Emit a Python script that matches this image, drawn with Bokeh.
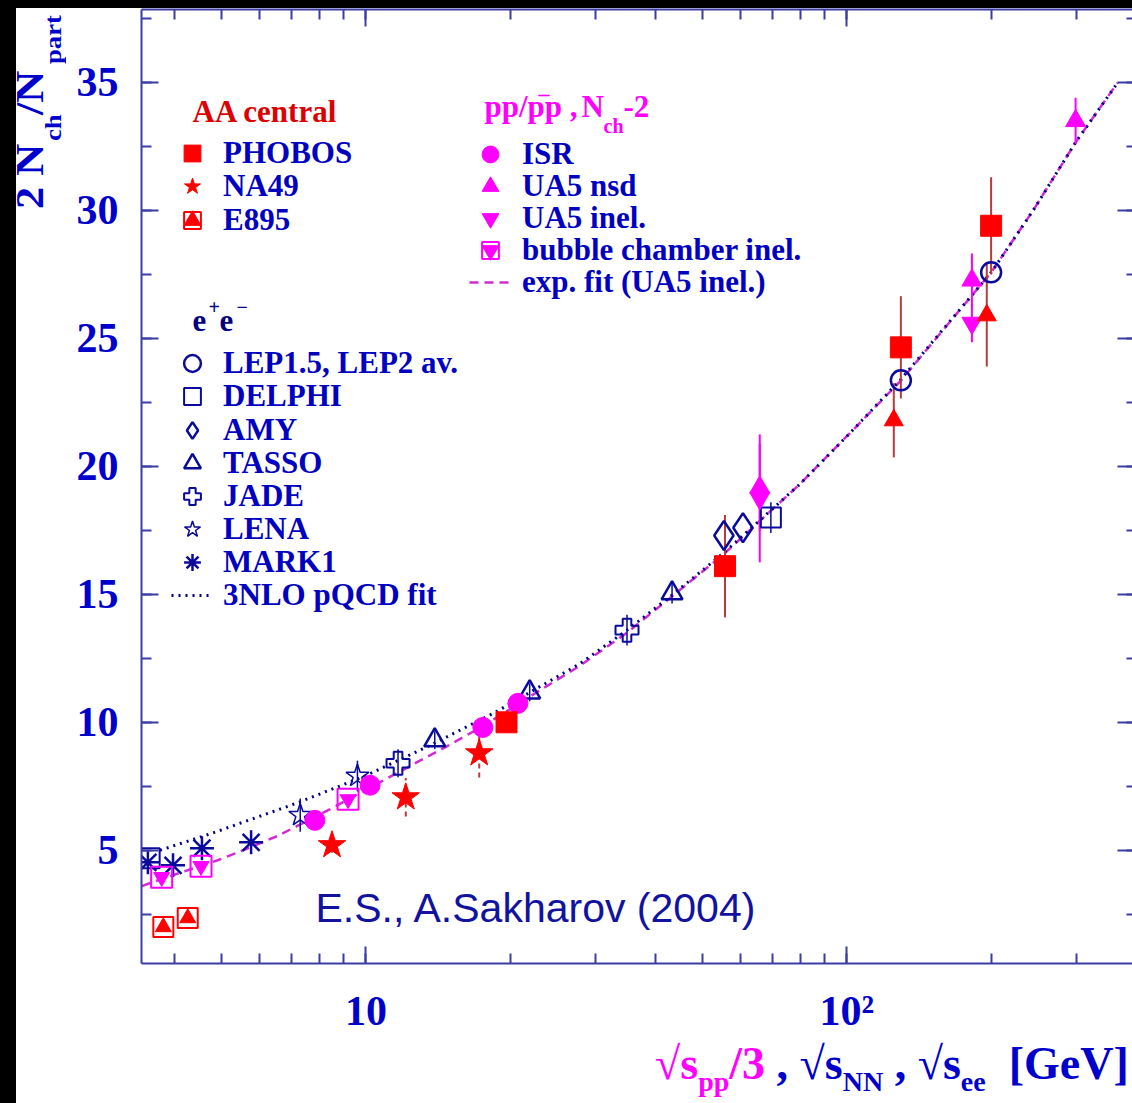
import math

from bokeh.plotting import figure
from bokeh.models import (Range1d, LogAxis, LinearAxis, SingleIntervalTicker, LogTicker,
                          Legend, LegendItem, Label, Div, CustomJSTickFormatter)
from bokeh.layouts import row, column
from bokeh.embed import file_html
from bokeh.resources import INLINE

# ---------------------------------------------------------------- data
# AA central collisions
phobos_x = [19.6, 55.8, 129.5, 199.5]
phobos_y = [10.0, 16.1, 24.65, 29.4]
phobos_err = [0.4, 2.0, 2.0, 1.9]

aa_tri_x = [125.2, 195.4]
aa_tri_y = [21.8, 25.9]
aa_tri_err = [1.45, 2.0]

na49_x = [8.5, 12.1, 17.2]
na49_y = [5.2, 7.07, 8.79]
na49_err = [0.3, 0.75, 0.95]

e895_x = [3.79, 4.26]
e895_y = [2.0, 2.35]

# pp / p-pbar, N_ch - 2
isr_x = [7.83, 10.2, 17.5, 20.7]
isr_y = [6.17, 7.54, 9.8, 10.74]

ua5_nsd_x = [65.9, 182.0, 299.0]
ua5_nsd_y = [19.18, 27.27, 33.5]
ua5_nsd_err = [1.7, 1.05, 0.9]

ua5_inel_x = [65.9, 182.0]
ua5_inel_y = [18.75, 25.6]
ua5_inel_err = [2.5, 0.75]

bubble_x = [3.76, 4.54, 9.18]
bubble_y = [3.95, 4.38, 6.99]

# e+e-
lep_x = [129.5, 199.5]
lep_y = [23.36, 27.58]

delphi_x = [3.55, 69.5]
delphi_y = [4.69, 18.0]
delphi_err = [0.0, 0.6]

amy_x = [55.5, 60.8]
amy_y = [17.3, 17.6]

tasso_x = [13.9, 21.9, 43.3]
tasso_y = [9.3, 11.17, 15.04]
tasso_err = [0.35, 0.35, 0.4]

jade_x = [11.66, 34.9]
jade_y = [8.4, 13.6]
jade_err = [0.55, 0.6]

lena_x = [7.3, 9.6]
lena_y = [6.37, 7.9]
lena_err = [0.65, 0.6]

mark1_x = [3.52, 3.97, 4.56, 5.77]
mark1_y = [4.53, 4.41, 5.08, 5.31]
mark1_err = [0.0, 0.0, 0.4, 0.0]

# fitted curves
pqcd_x = [3.73, 4.81, 7.2, 9.95, 13.6, 18.4, 27.9, 34.9, 43.5, 55.3, 79.8, 101.5,
          129.5, 200.0, 244.0, 300.0, 366.0]
pqcd_y = [5.0, 5.68, 6.85, 7.9, 9.1, 10.35, 12.3, 13.6, 15.0, 16.6, 19.3, 21.3,
          23.4, 27.6, 30.0, 32.7, 35.0]

expfit_x = [3.42, 3.76, 4.9, 5.47, 6.53, 7.2, 8.41, 10.2, 12.95, 14.7, 17.5, 20.7,
            23.0, 27.8, 34.9, 43.5, 55.3, 79.8, 101.5, 129.5, 200.0, 244.0, 300.0, 366.0]
expfit_y = [3.6, 3.88, 4.6, 4.95, 5.55, 5.95, 6.6, 7.45, 8.5, 9.05, 9.85, 10.7,
            11.25, 12.2, 13.5, 14.95, 16.55, 19.3, 21.3, 23.35, 27.6, 30.0, 32.7, 35.0]

y_ticks_interval = 5

# ---------------------------------------------------------------- styles
RED = "#ff0000"
ERR_RED = "#b83c3c"
MAG = "#ff00ff"
MAG_LINE = "#d42ad4"
BLUE = "#0a0a9c"
NAVY = "#000080"
TICK_TXT = "#0000cc"
AXIS_C = "#3c3ca6"
LEG_TXT = "#0000c0"
HDR_RED = "#dd0000"
NOTE_BLUE = "#1212a0"
SERIF = "Liberation Serif"

X0, X1 = 3.414, 392.6
Y0, Y1 = 0.576, 37.85

# page geometry (pixels): plot frame edges, title strips
FRAME_L, FRAME_R, FRAME_T, FRAME_B = 141.0, 1132.0, 9.0, 963.0
PAGE_W, PAGE_H = 1132, 1103
TOP_STRIP = 8
YTITLE_W = 66
XTITLE_H = 67
FIG_W = PAGE_W - YTITLE_W
FIG_H = PAGE_H - TOP_STRIP - XTITLE_H


def px2x(px):
    lo, hi = math.log10(X0), math.log10(X1)
    return 10 ** (lo + (px - FRAME_L) / (FRAME_R - FRAME_L) * (hi - lo))


def py2y(py):
    return Y0 + (FRAME_B - py) / (FRAME_B - FRAME_T) * (Y1 - Y0)


p = figure(width=FIG_W, height=FIG_H, x_axis_type="log",
           x_range=Range1d(X0, X1), y_range=Range1d(Y0, Y1),
           output_backend="svg", toolbar_location=None,
           min_border_left=int(FRAME_L - YTITLE_W), min_border_right=0,
           min_border_top=int(FRAME_T - TOP_STRIP),
           min_border_bottom=int(TOP_STRIP + FIG_H - FRAME_B),
           outline_line_color=None, background_fill_color="white", border_fill_color="white")
p.grid.visible = False


def style_axis(ax, labels=True):
    ax.axis_line_color = AXIS_C
    ax.axis_line_width = 2
    ax.major_tick_line_color = AXIS_C
    ax.major_tick_line_width = 2
    ax.minor_tick_line_color = AXIS_C
    ax.minor_tick_line_width = 2
    ax.major_tick_in = 17
    ax.major_tick_out = 0
    ax.minor_tick_in = 10
    ax.minor_tick_out = 0
    if labels:
        ax.major_label_text_font = SERIF
        ax.major_label_text_font_style = "bold"
        ax.major_label_text_font_size = "42px"
        ax.major_label_text_color = TICK_TXT
    else:
        ax.major_label_text_font_size = "0px"
        ax.major_label_text_alpha = 0
        ax.major_label_standoff = 0


xa = p.xaxis[0]
xa.ticker = LogTicker(num_minor_ticks=10)
xa.formatter = CustomJSTickFormatter(code="return tick > 50 ? '10\u00b2' : '10';")
style_axis(xa)
xa.major_label_standoff = 24

ya = p.yaxis[0]
ya.ticker = SingleIntervalTicker(interval=y_ticks_interval, num_minor_ticks=2)
style_axis(ya)
ya.major_label_standoff = 23

top = LogAxis(ticker=LogTicker(num_minor_ticks=10))
style_axis(top, labels=False)
p.add_layout(top, "above")

right = LinearAxis(ticker=SingleIntervalTicker(interval=y_ticks_interval, num_minor_ticks=2))
style_axis(right, labels=False)
right.axis_line_color = None
right.major_tick_in = 15
right.minor_tick_in = 6
p.add_layout(right, "right")

# ---------------------------------------------------------------- curves
r_exp = p.line(expfit_x, expfit_y, line_color=MAG_LINE, line_width=2.5, line_dash="9 6")
r_pqcd = p.line(pqcd_x, pqcd_y, line_color=NAVY, line_width=3, line_dash="2 5")


# ---------------------------------------------------------------- error bars
def err_bars(xs, ys, es, color, width=2.0, dash="solid"):
    x0, y0, y1 = [], [], []
    for x, y, e in zip(xs, ys, es):
        if e > 0:
            x0.append(x)
            y0.append(y - e)
            y1.append(y + e)
    p.segment(x0=x0, y0=y0, x1=x0, y1=y1, line_color=color, line_width=width, line_dash=dash)


err_bars(phobos_x, phobos_y, phobos_err, ERR_RED)
err_bars(aa_tri_x, aa_tri_y, aa_tri_err, ERR_RED)
err_bars(na49_x, na49_y, na49_err, ERR_RED, dash="5 4")
err_bars(ua5_nsd_x, ua5_nsd_y, ua5_nsd_err, MAG, width=2.0)
err_bars(ua5_inel_x, ua5_inel_y, ua5_inel_err, MAG, width=2.0)
err_bars(delphi_x, delphi_y, delphi_err, BLUE, width=1.5)
err_bars(tasso_x, tasso_y, tasso_err, BLUE, width=1.5)
err_bars(jade_x, jade_y, jade_err, BLUE, width=1.5)
err_bars(lena_x, lena_y, lena_err, BLUE, width=1.5)
err_bars(mark1_x, mark1_y, mark1_err, BLUE, width=1.5)

# ---------------------------------------------------------------- markers
# e+e- (open blue symbols)
r_lep = p.scatter(lep_x, lep_y, marker="circle", size=20, fill_color=None, line_color=BLUE, line_width=2.5)
r_delphi = p.scatter(delphi_x, delphi_y, marker="square", size=20, fill_color=None, line_color=BLUE, line_width=2)
r_amy = p.scatter(amy_x, amy_y, marker="diamond", size=29, fill_color=None, line_color=BLUE, line_width=2.5)
r_tasso = p.scatter(tasso_x, tasso_y, marker="triangle", size=21, fill_color=None, line_color=BLUE, line_width=2.5)
r_jade = p.scatter(jade_x, jade_y, marker="plus", size=23, fill_color=None, line_color=BLUE, line_width=2)
r_lena = p.scatter(lena_x, lena_y, marker="star", size=24, fill_color=None, line_color=BLUE, line_width=1.5)
r_mark1 = p.scatter(mark1_x, mark1_y, marker="asterisk", size=24, line_color=BLUE, line_width=2.5)

# pp (magenta)
r_bub_sq = p.scatter(bubble_x, bubble_y, marker="square", size=21, fill_color=None, line_color=MAG, line_width=2)
r_bub_tri = p.scatter(bubble_x, bubble_y, marker="inverted_triangle", size=16, fill_color=MAG, line_color=MAG)
r_isr = p.scatter(isr_x, isr_y, marker="circle", size=20, fill_color=MAG, line_color=MAG)
r_nsd = p.scatter(ua5_nsd_x, ua5_nsd_y, marker="triangle", size=20, fill_color=MAG, line_color=MAG)
r_inel = p.scatter(ua5_inel_x, ua5_inel_y, marker="inverted_triangle", size=20, fill_color=MAG, line_color=MAG)

# AA (red)
r_e895_sq = p.scatter(e895_x, e895_y, marker="square", size=20, fill_color=None, line_color=RED, line_width=2)
r_e895_tri = p.scatter(e895_x, e895_y, marker="triangle", size=16, fill_color=RED, line_color=RED)
r_na49 = p.scatter(na49_x, na49_y, marker="star", size=29, fill_color=RED, line_color=RED)
r_aatri = p.scatter(aa_tri_x, aa_tri_y, marker="triangle", size=19, fill_color=RED, line_color=RED)
r_phobos = p.scatter(phobos_x, phobos_y, marker="square", size=21, fill_color=RED, line_color=RED)

# ---------------------------------------------------------------- legends
# one single-row legend per entry, so that every row sits at its own height
GLYPH = 42


def legend_row(label, renderers, cx, cy, standoff):
    lg = Legend(items=[LegendItem(label=label, renderers=renderers)],
                location=(cx - GLYPH / 2 - FRAME_L, FRAME_B - (cy + GLYPH / 2)),
                orientation="vertical", border_line_color=None, background_fill_alpha=0,
                padding=0, margin=0, spacing=0,
                glyph_width=GLYPH, glyph_height=GLYPH, label_height=GLYPH, label_standoff=standoff,
                label_text_font=SERIF, label_text_font_style="bold",
                label_text_font_size="31px", label_text_color=LEG_TXT)
    p.add_layout(lg, "center")


aa_rows = [("PHOBOS", [r_phobos], 152.5), ("NA49", [r_na49], 186),
           ("E895", [r_e895_sq, r_e895_tri], 219.5)]
ee_rows = [("LEP1.5, LEP2 av.", [r_lep], 362.5), ("DELPHI", [r_delphi], 396),
           ("AMY", [r_amy], 429.5), ("TASSO", [r_tasso], 462.5), ("JADE", [r_jade], 495.5),
           ("LENA", [r_lena], 528.5), ("MARK1", [r_mark1], 562), ("3NLO pQCD fit", [r_pqcd], 595)]
pp_rows = [("ISR", [r_isr], 154), ("UA5 nsd", [r_nsd], 186), ("UA5 inel.", [r_inel], 218),
           ("bubble chamber inel.", [r_bub_sq, r_bub_tri], 250),
           ("exp. fit (UA5 inel.)", [r_exp], 282)]

for lab, rends, cy in aa_rows + ee_rows:
    legend_row(lab, rends, 192, cy, 10)
for lab, rends, cy in pp_rows:
    legend_row(lab, rends, 490, cy, 11)


# ---------------------------------------------------------------- text inside the frame
def text(s, px, py, size, color, bold=True, font=SERIF):
    lab = Label(x=px2x(px), y=py2y(py), text=s,
                text_font=font, text_font_size=f"{size}px",
                text_font_style="bold" if bold else "normal",
                text_color=color, text_align="left", text_baseline="middle")
    p.add_layout(lab)


text("AA central", 192, 111, 31, HDR_RED)
text("e", 192, 320, 31, NAVY)
text("+", 208, 306, 20, NAVY)
text("e", 219, 320, 31, NAVY)
text("\u2212", 236, 306, 20, NAVY)
text("pp/pp ,", 484, 106, 31, MAG)
text("\u2013", 538, 93, 22, MAG)
text("N", 581, 106, 31, MAG)
text("ch", 603, 125, 20, MAG)
text("-2", 623, 106, 31, MAG)

text("E.S., A.Sakharov (2004)", 315, 907, 41, NOTE_BLUE, bold=False, font="Liberation Sans")

# ---------------------------------------------------------------- axis titles (HTML text)
LH = 0.7  # tight line box: baseline sits 0.6875 em below the box top


def span(txt, left, top, size, color, extra=""):
    return (f'<span style="position:absolute;left:{left:.1f}px;top:{top:.1f}px;'
            f"font:bold {size}px 'Liberation Serif';line-height:{LH};color:{color};"
            f'white-space:nowrap;{extra}">{txt}</span>')


def sub(txt, size, drop):
    return f'<span style="font-size:{size}px;position:relative;top:{drop}px;">{txt}</span>'


def v_piece(txt, baseline_x, start_y, size, color, stretch=1.11):
    # rotated text reading upward, starting at page row start_y
    return span(txt, baseline_x - 0.6875 * size, start_y - TOP_STRIP, size, color,
                f"transform-origin:0 0;transform:rotate(-90deg) scale({stretch},1);")


XT_SIZE, XT_SUB, XT_DROP = 46, 28, 12
xt_base = 1080 - (TOP_STRIP + FIG_H)      # baseline inside the title strip
xtitle_line = (f'<span style="color:{MAG}">\u221as{sub("pp", XT_SUB, XT_DROP)}/3</span>'
               f' , \u221as{sub("NN", XT_SUB, XT_DROP)}'
               f' , \u221as{sub("ee", XT_SUB, XT_DROP)}&nbsp; [GeV]')
xtitle_html = ('<div style="position:relative;width:%dpx;height:%dpx;">' % (FIG_W, XTITLE_H)
               + span(xtitle_line, 655 - YTITLE_W, xt_base - 0.6875 * XT_SIZE, XT_SIZE, TICK_TXT)
               + "</div>")

ytitle_html = ('<div style="position:relative;width:%dpx;height:%dpx;">' % (YTITLE_W, PAGE_H - TOP_STRIP)
               + v_piece("2 N", 43, 209, 40, TICK_TXT)
               + v_piece("ch", 61, 141, 24, TICK_TXT)
               + v_piece("/N", 43, 115, 40, TICK_TXT)
               + v_piece("part", 61, 64, 24, TICK_TXT)
               + "</div>")

# ---------------------------------------------------------------- page
top_strip = Div(text="", width=PAGE_W, height=TOP_STRIP, margin=0,
                styles={"background-color": "black"})
ytitle = Div(text=ytitle_html, width=YTITLE_W, height=PAGE_H - TOP_STRIP, margin=0,
             styles={"background": "linear-gradient(to right, black 0px, black 16px, white 16px, white 100%)",
                     "overflow": "hidden"})
xtitle = Div(text=xtitle_html, width=FIG_W, height=XTITLE_H, margin=0,
             styles={"background-color": "white", "overflow": "hidden"})
page = column(top_strip, row(ytitle, column(p, xtitle, spacing=0, margin=0), spacing=0, margin=0),
              spacing=0, margin=0)

open("out.html", "w").write(file_html(page, INLINE))
